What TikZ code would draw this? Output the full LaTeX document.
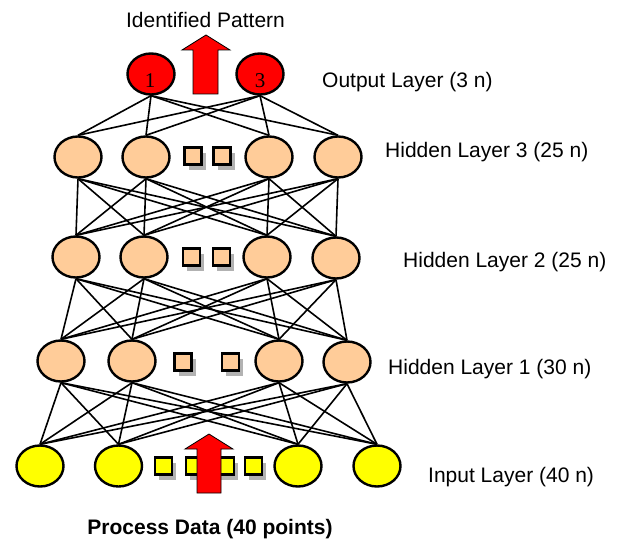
\documentclass[tikz,border=0pt]{standalone}
\usepackage{fontspec}
\setmainfont{Liberation Sans}
\newfontfamily\digitfont{Liberation Serif}
\usetikzlibrary{shapes.geometric,shadows}
\definecolor{peach}{HTML}{FFCC99}
\definecolor{inyellow}{HTML}{FFFF00}

\begin{document}
\begin{tikzpicture}[x=1pt, y=-1pt, font=\fontsize{21}{25}\selectfont,
  neuron/.style = {draw, ellipse, line width=2.4pt, inner sep=0pt, minimum width=47pt, minimum height=41pt},
  dots/.style = {draw, line width=2.2pt, inner sep=0pt, minimum size=17pt, drop shadow={shadow xshift=4pt, shadow yshift=-5pt, fill=black!30, opacity=1}},
  link/.style = {line width=1.6pt},
  bigarrow/.style = {draw=black, fill=red, line width=0.8pt},
  layer/.style = {anchor=base west, inner sep=0pt},
  caption/.style = {anchor=base, inner sep=0pt}]
\useasboundingbox (0,0) rectangle (617,540);
\node[neuron, fill=red] (o1) at (151,74) {};
\node[neuron, fill=red] (o2) at (260,74) {};
\node[caption, font=\digitfont\fontsize{21}{25}\selectfont] (n1) at (150,88) {1};
\node[caption, font=\digitfont\fontsize{21}{25}\selectfont] (n3) at (260,88) {3};
\node[neuron, fill=peach] (h31) at (78,157) {};
\node[neuron, fill=peach] (h32) at (146,157) {};
\node[neuron, fill=peach] (h33) at (269,157) {};
\node[neuron, fill=peach] (h34) at (338,157) {};
\node[dots, fill=peach] (s31) at (193,156) {};
\node[dots, fill=peach] (s32) at (222,156) {};
\node[neuron, fill=peach] (h21) at (76,257) {};
\node[neuron, fill=peach] (h22) at (144,257) {};
\node[neuron, fill=peach] (h23) at (267,257) {};
\node[neuron, fill=peach] (h24) at (336,258) {};
\node[dots, fill=peach] (s21) at (191.5,257) {};
\node[dots, fill=peach] (s22) at (221.5,257) {};
\node[neuron, fill=peach] (h11) at (61,361) {};
\node[neuron, fill=peach] (h12) at (132,361) {};
\node[neuron, fill=peach] (h13) at (279,361) {};
\node[neuron, fill=peach] (h14) at (347,362) {};
\node[dots, fill=peach] (s11) at (183,362) {};
\node[dots, fill=peach] (s12) at (230.5,362) {};
\node[neuron, fill=inyellow] (i1) at (40,466) {};
\node[neuron, fill=inyellow] (i2) at (118.5,466) {};
\node[neuron, fill=inyellow] (i3) at (298,466) {};
\node[neuron, fill=inyellow] (i4) at (377,466) {};
\node[dots, fill=inyellow] (s01) at (163.5,466) {};
\node[dots, fill=inyellow] (s02) at (194.5,466) {};
\node[dots, fill=inyellow] (s03) at (225.5,466) {};
\node[dots, fill=inyellow] (s04) at (253.5,466) {};
\foreach \a in {o1,o2} \foreach \b in {1,...,4} \draw[link] (\a.south) -- (h3\b.north);
\foreach \a/\b in {h3/h2, h2/h1, h1/i} \foreach \p in {1,...,4} \foreach \q in {1,...,4} \draw[link] (\a\p.south) -- (\b\q.north);
\draw[bigarrow] (206,35) -- (230,50) -- (218,50) -- (218,94) -- (193,94) -- (193,50) -- (182,50) -- cycle;
\draw[bigarrow] (209,434) -- (233,449) -- (221,449) -- (221,493) -- (197,493) -- (197,449) -- (185,449) -- cycle;
\node[caption] (pattern) at (205.5,28) {Identified Pattern};
\node[caption] (data) at (210,534) {\bfseries Process Data (40 points)};
\node[layer] (lout) at (322,87.5) {Output Layer (3 n)};
\node[layer] (lh3) at (385,157.5) {Hidden Layer 3 (25 n)};
\node[layer] (lh2) at (403,267.5) {Hidden Layer 2 (25 n)};
\node[layer] (lh1) at (388,374.5) {Hidden Layer 1 (30 n)};
\node[layer] (lin) at (428,482.5) {Input Layer (40 n)};
\end{tikzpicture}
\end{document}
